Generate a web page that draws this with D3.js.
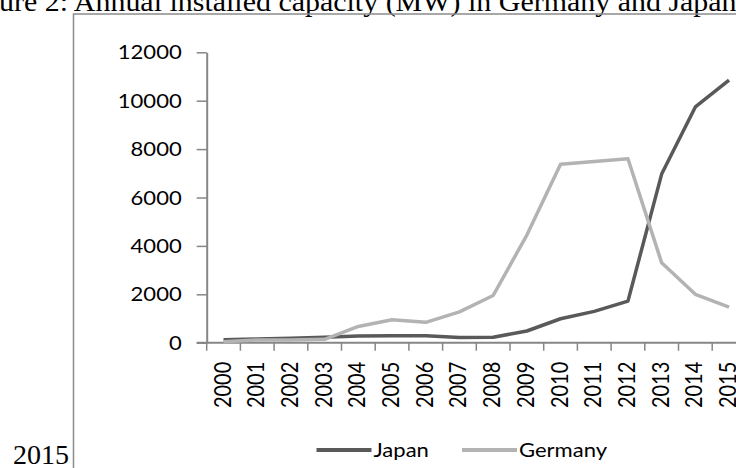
<!DOCTYPE html>
<html>
<head>
<meta charset="utf-8">
<script src="https://cdn.jsdelivr.net/npm/d3@7"></script>
<style>
  html, body { margin: 0; padding: 0; background: #fff; }
  #canvas { width: 736px; height: 468px; overflow: hidden; }
</style>
</head>
<body>
<div id="canvas"></div>
<script>
// data (annual installed capacity, MW)
var years = ["2000","2001","2002","2003","2004","2005","2006","2007",
             "2008","2009","2010","2011","2012","2013","2014","2015"];
var japan = [122, 150, 184, 223, 272, 290, 287, 210, 225, 483, 990, 1296, 1718, 6968, 9740, 10850];
var germany = [44, 110, 110, 139, 670, 951, 843, 1271, 1950, 4446, 7378, 7485, 7604, 3304, 2000, 1470];
var yTicks = [0, 2000, 4000, 6000, 8000, 10000, 12000];
var seriesNames = ["Japan", "Germany"];

var svg = d3.select("#canvas").append("svg")
    .attr("width", 736)
    .attr("height", 468);

var sx = 1.16; // the picture is stretched sideways a little
var axisColor = "#868686";
var colors = { Japan: "#595959", Germany: "#b3b3b3" };
var serif = "'Liberation Serif', 'Times New Roman', serif";

// caption (cut off at the top and at the left in the original)
svg.append("text")
    .attr("transform", "translate(-41,11) scale(1.07,1)")
    .style("font-family", serif)
    .style("font-size", "28px")
    .style("fill", "#000")
    .text("Figure 2: Annual installed capacity (MW) in Germany and Japan (2000-");

svg.append("text")
    .attr("x", 13)
    .attr("y", 464)
    .style("font-family", serif)
    .style("font-size", "28px")
    .style("fill", "#000")
    .text("2015");

// chart frame
svg.append("rect")
    .attr("x", 73.5)
    .attr("y", 14)
    .attr("width", 800)
    .attr("height", 600)
    .attr("fill", "none")
    .attr("stroke", "#8c8c8c")
    .attr("stroke-width", 1.5);

var plotLeft = 206.7, plotBottom = 342.7, plotTop = 52.3, step = 33.7;

var x = d3.scaleBand()
    .domain(years)
    .range([plotLeft, plotLeft + step * years.length])
    .paddingInner(0)
    .paddingOuter(0);

var y = d3.scaleLinear()
    .domain([0, 12000])
    .range([plotBottom, plotTop]);

var fontFam = "Lato, 'Open Sans', sans-serif";

// y axis
var yAxis = svg.append("g")
    .attr("transform", "translate(" + plotLeft + ",0)")
    .call(d3.axisLeft(y).tickValues(yTicks).tickSize(10).tickSizeOuter(0).tickFormat(d3.format("d")));
yAxis.select(".domain").attr("stroke", axisColor).attr("stroke-width", 2);
yAxis.selectAll(".tick line").attr("stroke", axisColor).attr("stroke-width", 1.5);
yAxis.selectAll(".tick text")
    .attr("x", null).attr("dy", null)
    .attr("transform", "translate(-25,6.5) scale(" + sx + ",1)")
    .attr("text-anchor", "end")
    .style("font-family", fontFam)
    .style("font-size", "19px")
    .style("fill", "#000");

// x axis: labels at band centres, ticks at band edges
var xAxis = svg.append("g")
    .attr("transform", "translate(0," + plotBottom + ")")
    .call(d3.axisBottom(x).tickSize(0).tickSizeOuter(0));
xAxis.select(".domain").attr("stroke", axisColor).attr("stroke-width", 2)
    .attr("d", "M" + (plotLeft - 10) + ",0H" + (plotLeft + step * years.length));
xAxis.selectAll(".tick text")
    .attr("y", null).attr("dy", null)
    .attr("transform", "translate(7,19) scale(" + sx + ",1) rotate(-90)")
    .attr("text-anchor", "end")
    .style("font-family", fontFam)
    .style("font-size", "20px")
    .style("fill", "#000");

xAxis.selectAll(".edge")
    .data(years)
    .enter()
    .append("line")
    .attr("class", "edge")
    .attr("x1", function (d) { return x(d) })
    .attr("x2", function (d) { return x(d) })
    .attr("y1", 0)
    .attr("y2", 8)
    .attr("stroke", axisColor)
    .attr("stroke-width", 1.5);

// lines
var line = d3.line()
    .x(function (d, i) { return x(years[i]) + x.bandwidth() / 2 })
    .y(function (d) { return y(d) });

var seriesData = { Japan: japan, Germany: germany };

seriesNames.forEach(function (name) {
    svg.append("path")
        .datum(seriesData[name])
        .attr("d", line)
        .attr("fill", "none")
        .attr("stroke", colors[name])
        .attr("stroke-width", 3.5)
        .attr("stroke-linejoin", "round");
});

// legend
var legendX = [316.5, 462];
var legend = svg.selectAll(".legend")
    .data(seriesNames)
    .enter()
    .append("g")
    .attr("class", "legend")
    .attr("transform", function (d, i) { return "translate(" + legendX[i] + ",450)" });

legend.append("line")
    .attr("x1", 0)
    .attr("x2", 55)
    .attr("y1", 0)
    .attr("y2", 0)
    .attr("stroke", function (d) { return colors[d] })
    .attr("stroke-width", 4);

legend.append("text")
    .attr("transform", "translate(57,6.5) scale(" + sx + ",1)")
    .style("font-family", fontFam)
    .style("font-size", "19px")
    .style("fill", "#000")
    .text(function (d) { return d });
</script>
</body>
</html>
